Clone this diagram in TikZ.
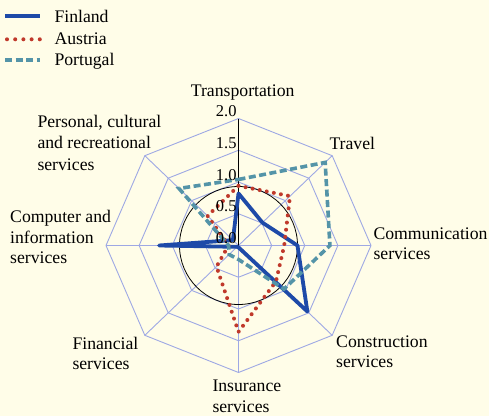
\documentclass[tikz,border=0pt]{standalone}
\usepackage{fontspec}
\setmainfont{Liberation Serif}
\definecolor{bgc}{RGB}{255,253,232}
\definecolor{gridc}{RGB}{158,168,228}
\definecolor{finc}{RGB}{30,74,168}
\definecolor{autc}{RGB}{192,57,43}
\definecolor{porc}{RGB}{84,148,168}
\begin{document}
\begin{tikzpicture}[x=1pt,y=1pt,
  lab/.style={anchor=base west, inner sep=0pt, align=left, font=\fontsize{17.7}{20.3}\selectfont},
  tick/.style={anchor=base east, inner sep=0pt, font=\fontsize{16.5}{18}\selectfont},
  gridline/.style={draw=gridc, line width=0.9pt},
  fin/.style={draw=finc, line width=3.8pt, line join=round},
  aut/.style={draw=autc, line width=4pt, line cap=round, dash pattern=on 0pt off 7.2pt},
  por/.style={draw=porc, line width=3.6pt, dash pattern=on 7pt off 3.5pt}]
\fill[bgc] (0,0) rectangle (489,416);
\useasboundingbox (0,0) rectangle (489,416);
\begin{scope}[shift={(238.5pt,170.5pt)}, x=66.25pt, y=63.5pt]
  \foreach \r in {0.5,1,1.5,2}
    \draw[gridline] (90:\r) \foreach \a in {45,0,-45,-90,-135,-180,-225} { -- (\a:\r) } -- cycle;
  \foreach \a in {45,0,-45,-90,-135,-180,-225}
    \draw[gridline] (0,0) -- (\a:2);
  \draw[black, line width=0.9pt] (0,0) -- (90:2);
  \draw[black, line width=0.8pt] (0,0) circle[radius=59pt];
  \draw[fin] (90:0.82) -- (45:0.51) -- (0:0.89) -- (-45:1.47) -- (-90:0.03) -- (-135:0.03) -- (180:1.2) -- (135:0.12) -- cycle;
  \draw[aut] (90:0.94) -- (45:1.1) -- (0:0.69) -- (-45:0.8) -- (-90:1.36) -- (-135:0.47) -- (180:0.15) -- (135:0.66) -- cycle;
  \draw[por] (90:1.04) -- (45:1.85) -- (0:1.38) -- (-45:0.97) -- (-90:0.22) -- (-135:0.2) -- (180:0.15) -- (135:1.27) -- cycle;
\end{scope}
% tick labels
\node[tick] (t00) at (236.7,172.5) {0.0};
\node[tick] (t05) at (236.7,204.2) {0.5};
\node[tick] (t10) at (236.7,236.0) {1.0};
\node[tick] (t15) at (236.7,267.7) {1.5};
\node[tick] (t20) at (236.7,299.5) {2.0};
% category labels (anchor = baseline of last line)
\node[lab] (transp) at (190.7,319.3) {Transportation};
\node[lab] (travel) at (329.3,266.7) {Travel};
\node[lab] (comm) at (373.3,156.7) {Communication\\services};
\node[lab] (constr) at (336,48.4) {Construction\\services};
\node[lab] (insur) at (212.3,4.0) {Insurance\\services};
\node[lab] (finan) at (72.3,46.4) {Financial\\services};
\node[lab] (comp) at (10,152.7) {Computer and\\information\\services};
\node[lab, font=\fontsize{17.7}{21.5}\selectfont] (pers) at (37.3,245.7) {Personal, cultural\\and recreational\\services};
% legend
\coordinate (lf1) at (5,400); \coordinate (lf2) at (39.5,400);
\coordinate (la1) at (7,376.7); \coordinate (la2) at (40,376.7);
\coordinate (lp1) at (5,355.7); \coordinate (lp2) at (40,355.7);
\draw[fin] (lf1) -- (lf2);
\draw[aut, dash pattern=on 0pt off 8.2pt] (la1) -- (la2);
\draw[por] (lp1) -- (lp2);
\node[lab] (legfin) at (54.3,393.3) {Finland};
\node[lab] (legaut) at (54.3,371) {Austria};
\node[lab] (legpor) at (54.3,350.7) {Portugal};
\end{tikzpicture}
\end{document}
